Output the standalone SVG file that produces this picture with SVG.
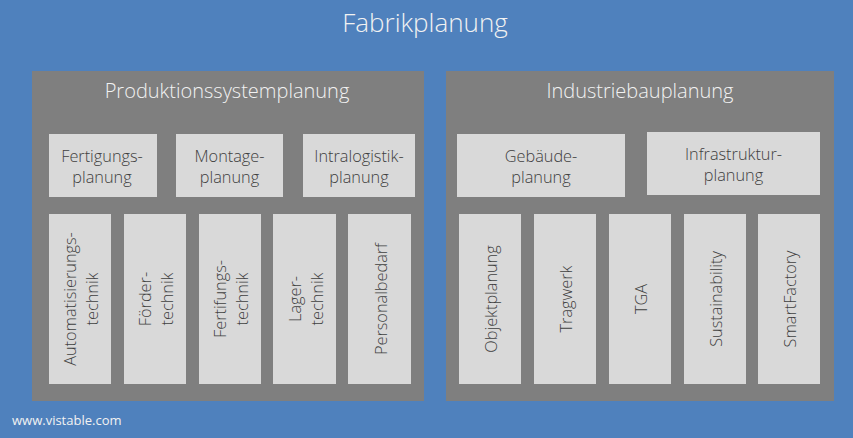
<svg xmlns="http://www.w3.org/2000/svg" width="853" height="438" viewBox="0 0 853 438">
<style>
.bg{fill:#4F81BD}
.panel{fill:#7F7F7F}
.box{fill:#D9D9D9}
.t{font-family:"Open Sans","Liberation Sans",sans-serif;font-weight:300;font-size:16.3px;fill:#404040;text-anchor:middle}
.h{font-family:"Open Sans","Liberation Sans",sans-serif;font-weight:300;font-size:20px;fill:#F2F2F2;text-anchor:middle}
.title{font-family:"Open Sans","Liberation Sans",sans-serif;font-weight:300;font-size:26px;fill:#F2F2F2;text-anchor:middle}
.foot{font-family:"Open Sans","Liberation Sans",sans-serif;font-size:13px;fill:#F2F2F2}
</style>
<rect class="bg" x="0" y="0" width="853" height="438"/>
<text class="title" x="425" y="32">Fabrikplanung</text>
<g id="produktionssystemplanung">
<rect class="panel" x="32" y="71" width="392" height="330"/>
<text class="h" x="227" y="98">Produktionssystemplanung</text>
</g>
<g id="industriebauplanung">
<rect class="panel" x="446" y="71" width="388" height="330"/>
<text class="h" x="640" y="98">Industriebauplanung</text>
</g>
<g id="fertigungsplanung"><rect class="box" x="49" y="134" width="108" height="63"/><text class="t" x="102" y="162">Fertigungs-<tspan x="102" y="183">planung</tspan></text></g>
<g id="montageplanung"><rect class="box" x="176" y="134" width="107" height="63"/><text class="t" x="229.5" y="162">Montage-<tspan x="229.5" y="183">planung</tspan></text></g>
<g id="intralogistikplanung"><rect class="box" x="303" y="134" width="112" height="63"/><text class="t" x="359" y="162">Intralogistik-<tspan x="359" y="183">planung</tspan></text></g>
<g id="gebaeudeplanung"><rect class="box" x="457" y="134" width="168" height="63"/><text class="t" x="541" y="162">Gebäude-<tspan x="541" y="183">planung</tspan></text></g>
<g id="infrastrukturplanung"><rect class="box" x="647" y="132" width="173" height="63"/><text class="t" x="733.5" y="160">Infrastruktur-<tspan x="733.5" y="181">planung</tspan></text></g>

<g id="automatisierungstechnik"><rect class="box" x="49" y="214" width="62" height="170"/><text class="t" transform="translate(80,299) rotate(-90)" x="0" y="-4">Automatisierungs-<tspan x="0" y="18">technik</tspan></text></g>
<g id="foerdertechnik"><rect class="box" x="124" y="214" width="62" height="170"/><text class="t" transform="translate(155,299) rotate(-90)" x="0" y="-4">Förder-<tspan x="0" y="18">technik</tspan></text></g>
<g id="fertifungstechnik"><rect class="box" x="199" y="214" width="62" height="170"/><text class="t" transform="translate(230,299) rotate(-90)" x="0" y="-4">Fertifungs-<tspan x="0" y="18">technik</tspan></text></g>
<g id="lagertechnik"><rect class="box" x="273" y="214" width="63" height="170"/><text class="t" transform="translate(304.5,299) rotate(-90)" x="0" y="-4">Lager-<tspan x="0" y="18">technik</tspan></text></g>
<g id="personalbedarf"><rect class="box" x="348" y="214" width="63" height="170"/><text class="t" transform="translate(379.5,299) rotate(-90)" x="0" y="7">Personalbedarf</text></g>

<g id="objektplanung"><rect class="box" x="459" y="214" width="62" height="170"/><text class="t" transform="translate(490,299) rotate(-90)" x="0" y="7">Objektplanung</text></g>
<g id="tragwerk"><rect class="box" x="534" y="214" width="62" height="170"/><text class="t" transform="translate(565,299) rotate(-90)" x="0" y="7">Tragwerk</text></g>
<g id="tga"><rect class="box" x="609" y="214" width="62" height="170"/><text class="t" transform="translate(640,299) rotate(-90)" x="0" y="7">TGA</text></g>
<g id="sustainability"><rect class="box" x="684" y="214" width="62" height="170"/><text class="t" transform="translate(715,299) rotate(-90)" x="0" y="7">Sustainability</text></g>
<g id="smartfactory"><rect class="box" x="758" y="214" width="62" height="170"/><text class="t" transform="translate(789,299) rotate(-90)" x="0" y="7">SmartFactory</text></g>

<g id="connectors"></g>
<text class="foot" x="12" y="425">www.vistable.com</text>
</svg>
